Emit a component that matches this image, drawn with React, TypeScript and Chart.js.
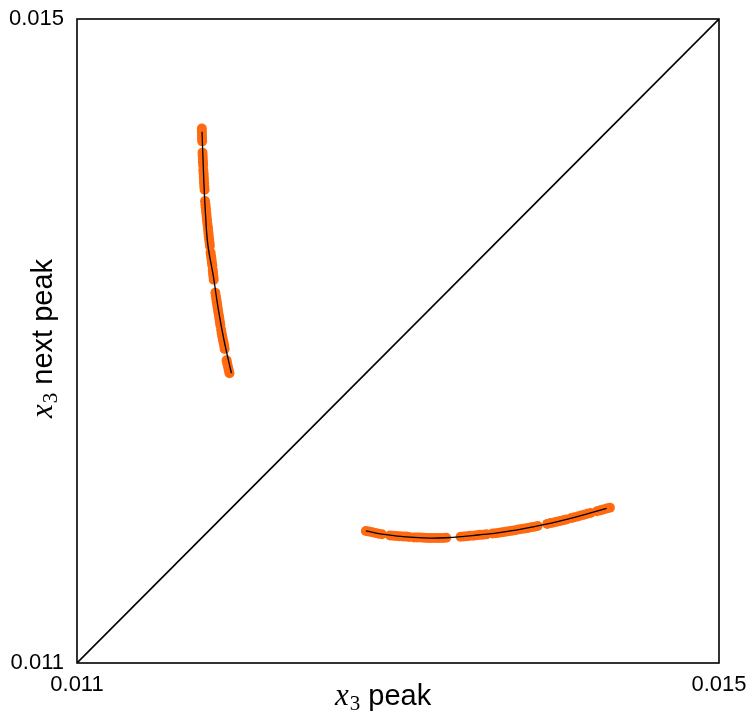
import React, { useEffect, useRef } from "react";
import { Chart, registerables } from "chart.js";

Chart.register(...registerables);

// Axis range and tick labels
const axisMin = 0.011;
const axisMax = 0.015;
const tickValues = [0.011, 0.015];

// Orange sample points – lower branch
const lowerX = [
  0.0128, 0.01282, 0.01284, 0.01286, 0.01288, 0.0129,
  0.01295, 0.01297, 0.01299, 0.01301, 0.01303, 0.01305, 0.01307,
  0.0131, 0.01312, 0.01314, 0.01316, 0.01318, 0.0132, 0.01322, 0.01324, 0.01326, 0.01328, 0.0133,
  0.01339, 0.01341, 0.01343, 0.01345,
  0.01347, 0.01349, 0.01351, 0.01353, 0.01355,
  0.01359, 0.01361, 0.01363, 0.01365, 0.01367, 0.01369, 0.01371, 0.01373, 0.01375, 0.01377, 0.01379, 0.01381, 0.01383, 0.01385, 0.01387,
  0.01393, 0.01395, 0.01397, 0.01399, 0.01401, 0.01403, 0.01405,
  0.01408, 0.0141, 0.01412, 0.01414, 0.01416, 0.01418, 0.0142,
  0.01424, 0.01426, 0.01428, 0.0143, 0.01432,
];
const lowerY = [
  0.01182, 0.011816, 0.011812, 0.011808, 0.011803, 0.0118,
  0.011792, 0.01179, 0.011789, 0.011788, 0.011786, 0.011785, 0.011783,
  0.01178, 0.01178, 0.011779, 0.011778, 0.011777, 0.011776, 0.011776, 0.011776, 0.011777, 0.011777, 0.011778,
  0.011784, 0.011786, 0.011788, 0.01179,
  0.011791, 0.011793, 0.011796, 0.011797, 0.011799,
  0.011804, 0.011806, 0.011809, 0.011812, 0.011815, 0.011818, 0.011822, 0.011825, 0.011829, 0.011832, 0.011836, 0.011839, 0.011843, 0.011847, 0.011851,
  0.011864, 0.011869, 0.011873, 0.011877, 0.011882, 0.011887, 0.011892,
  0.0119, 0.011905, 0.01191, 0.011916, 0.011921, 0.011927, 0.011932,
  0.011943, 0.011948, 0.011954, 0.01196, 0.011965,
];

// Orange sample points – upper branch
const upperX = [
  0.011778, 0.011778, 0.011779, 0.011779, 0.01178,
  0.011782, 0.011783, 0.011784, 0.011785, 0.011786,
  0.011787, 0.011789, 0.01179, 0.011791, 0.011792, 0.011793, 0.011795,
  0.011798, 0.0118, 0.011802, 0.011804, 0.011806, 0.011808, 0.01181, 0.011812, 0.011815, 0.011817, 0.011819, 0.011821, 0.011823, 0.011826, 0.011828,
  0.011832, 0.011835, 0.011838, 0.01184, 0.011843,
  0.011846, 0.011848, 0.01185, 0.011852,
  0.011862, 0.011865, 0.011868, 0.011871, 0.011874, 0.011877, 0.01188, 0.011884, 0.011887, 0.01189, 0.011893,
  0.011898, 0.011901, 0.011905, 0.011909, 0.011913, 0.011917, 0.01192,
  0.011932, 0.011936, 0.011941, 0.011945, 0.01195,
];
const upperY = [
  0.01432, 0.0143, 0.01428, 0.01426, 0.01424,
  0.01417, 0.01415, 0.01413, 0.01411, 0.01409,
  0.01406, 0.01404, 0.01402, 0.014, 0.01398, 0.01396, 0.01394,
  0.01387, 0.01385, 0.01383, 0.01381, 0.01379, 0.01377, 0.01375, 0.01373, 0.01371, 0.01369, 0.01367, 0.01365, 0.01363, 0.01361, 0.01359,
  0.01355, 0.01353, 0.01351, 0.01349, 0.01347,
  0.01344, 0.01342, 0.0134, 0.01338,
  0.0133, 0.01328, 0.01326, 0.01324, 0.01322, 0.0132, 0.01318, 0.01316, 0.01314, 0.01312, 0.0131,
  0.01307, 0.01305, 0.01303, 0.01301, 0.01299, 0.01297, 0.01295,
  0.01288, 0.01286, 0.01284, 0.01282, 0.0128,
];

// Fitted black curves
const fitLowerX = [0.0128, 0.0129, 0.013, 0.0131, 0.0132, 0.0133, 0.0134, 0.0135, 0.0136, 0.0137, 0.0138, 0.0139, 0.014, 0.0141, 0.0142, 0.0143];
const fitLowerY = [0.01182, 0.0118, 0.011788, 0.01178, 0.011776, 0.011778, 0.011785, 0.011795, 0.011805, 0.01182, 0.011838, 0.011858, 0.01188, 0.011905, 0.011932, 0.01196];
const fitUpperX = [0.011779, 0.01179, 0.0118, 0.011815, 0.01185, 0.01188, 0.011917, 0.011962];
const fitUpperY = [0.0143, 0.014, 0.0138, 0.0136, 0.0134, 0.0132, 0.013, 0.0128];

// Identity diagonal
const diagX = [0.011, 0.015];
const diagY = [0.011, 0.015];

const zip = (xs: number[], ys: number[]) => xs.map((x, i) => ({ x, y: ys[i] }));

const ORANGE = "#ff6a10";
const SANS = '"Liberation Sans", Arial, Helvetica, sans-serif';
const SERIF = '"Liberation Serif", "DejaVu Serif", serif';

const framePlugin = {
  id: "frameAndTitles",
  afterDraw(chart: any) {
    const ctx = chart.ctx as CanvasRenderingContext2D;
    const a = chart.chartArea;
    ctx.save();
    ctx.strokeStyle = "#000";
    ctx.lineWidth = 1.6;
    ctx.strokeRect(a.left, a.top, a.right - a.left, a.bottom - a.top);

    const drawTitle = (main: string) => {
      ctx.fillStyle = "#000";
      ctx.textBaseline = "alphabetic";
      ctx.textAlign = "left";
      ctx.font = `italic 31px ${SERIF}`;
      ctx.fillText("x", 0, 0);
      let w = ctx.measureText("x").width;
      ctx.font = `21px ${SERIF}`;
      ctx.fillText("3", w + 1, 5);
      w += 1 + ctx.measureText("3").width;
      ctx.font = `29px ${SANS}`;
      w += ctx.measureText(" ").width;
      ctx.fillText(main, w, 0);
    };

    // x axis title
    ctx.save();
    ctx.translate(335, 705);
    drawTitle("peak");
    ctx.restore();

    // y axis title
    ctx.save();
    ctx.translate(52, 418);
    ctx.rotate(-Math.PI / 2);
    drawTitle("next peak");
    ctx.restore();

    ctx.restore();
  },
};

export default function App() {
  const canvasRef = useRef<HTMLCanvasElement | null>(null);

  useEffect(() => {
    if (!canvasRef.current) return;
    const tickFont = { family: SANS, size: 22 };
    const chart = new Chart(canvasRef.current, {
      type: "scatter",
      data: {
        datasets: [
          {
            type: "line",
            data: zip(diagX, diagY),
            borderColor: "#000",
            borderWidth: 1.6,
            pointRadius: 0,
            fill: false,
            order: 0,
          },
          {
            type: "line",
            data: zip(fitLowerX, fitLowerY),
            borderColor: "#000",
            borderWidth: 1.3,
            pointRadius: 0,
            tension: 0.4,
            fill: false,
            order: 0,
          },
          {
            type: "line",
            data: zip(fitUpperX, fitUpperY),
            borderColor: "#000",
            borderWidth: 1.3,
            pointRadius: 0,
            tension: 0.4,
            fill: false,
            order: 0,
          },
          {
            data: zip(lowerX, lowerY),
            backgroundColor: ORANGE,
            borderColor: ORANGE,
            borderWidth: 0,
            pointRadius: 5,
            order: 1,
          },
          {
            data: zip(upperX, upperY),
            backgroundColor: ORANGE,
            borderColor: ORANGE,
            borderWidth: 0,
            pointRadius: 5,
            order: 1,
          },
        ],
      },
      options: {
        responsive: false,
        animation: false,
        devicePixelRatio: 1,
        layout: { padding: { top: 19, right: 36, left: 0, bottom: 0 } },
        plugins: {
          legend: { display: false },
          tooltip: { enabled: false },
        },
        scales: {
          x: {
            type: "linear",
            min: axisMin,
            max: axisMax,
            grid: { display: false },
            border: { display: false },
            afterBuildTicks: (scale: any) => {
              scale.ticks = tickValues.map((v) => ({ value: v }));
            },
            afterFit: (scale: any) => {
              scale.height = 62;
            },
            ticks: {
              color: "#000",
              font: tickFont,
              padding: 1,
              maxRotation: 0,
              autoSkip: false,
              callback: (v: any) => Number(v).toFixed(3),
            },
          },
          y: {
            type: "linear",
            min: axisMin,
            max: axisMax,
            grid: { display: false },
            border: { display: false },
            afterBuildTicks: (scale: any) => {
              scale.ticks = tickValues.map((v) => ({ value: v }));
            },
            afterFit: (scale: any) => {
              scale.width = 77;
            },
            ticks: {
              color: "#000",
              font: tickFont,
              padding: 5,
              autoSkip: false,
              callback: (v: any) => Number(v).toFixed(3),
            },
          },
        },
      },
      plugins: [framePlugin],
    });
    return () => chart.destroy();
  }, []);

  return (
    <div style={{ position: "absolute", left: 0, top: 0, width: 755, height: 725, background: "#fff" }}>
      <canvas ref={canvasRef} width={755} height={725} />
    </div>
  );
}
